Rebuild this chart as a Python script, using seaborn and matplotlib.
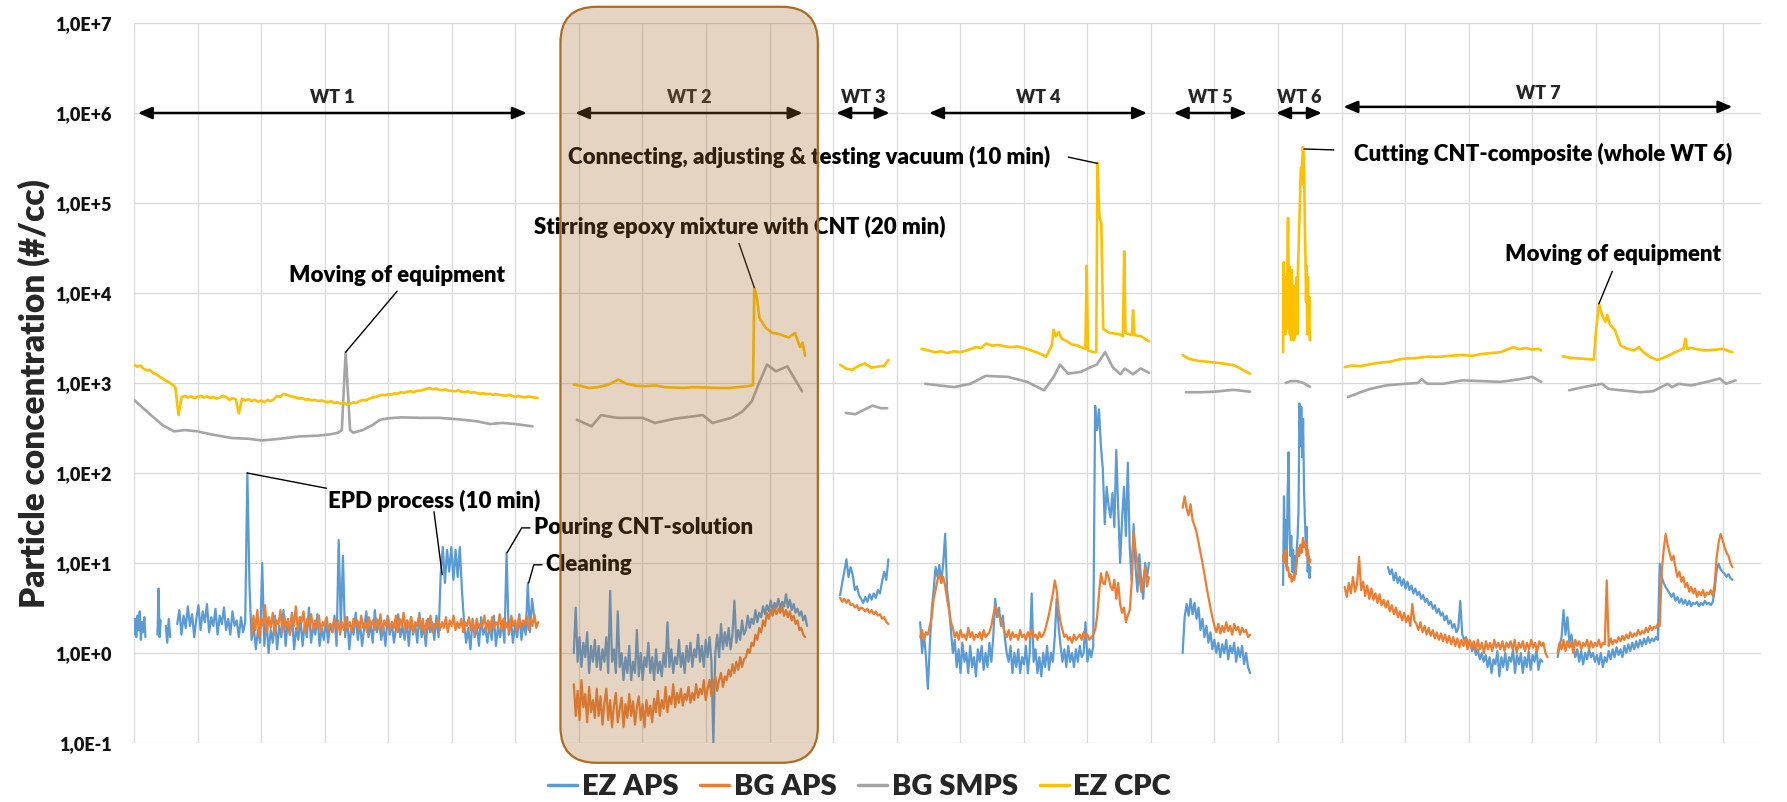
import numpy as np
import pandas as pd
import matplotlib
matplotlib.use("Agg")
import matplotlib.pyplot as plt
import seaborn as sns
from matplotlib.patches import FancyBboxPatch
from matplotlib.transforms import IdentityTransform
from matplotlib.lines import Line2D
from matplotlib.ticker import FixedLocator, FixedFormatter, MultipleLocator, NullFormatter, NullLocator

# ---------------------------------------------------------------- data
# time axis in arbitrary units (one vertical gridline per unit)
SERIES = ["EZ APS", "BG APS", "BG SMPS", "EZ CPC"]
COLORS = ["#5B9BD5", "#ED7D31", "#A5A5A5", "#FFC000"]
Y_TICKS = [1e-1, 1e0, 1e1, 1e2, 1e3, 1e4, 1e5, 1e6, 1e7]
Y_TICK_LABELS = ["1,0E-1", "1,0E+0", "1,0E+1", "1,0E+2", "1,0E+3",
                 "1,0E+4", "1,0E+5", "1,0E+6", "1,0E+7"]

# --- EZ APS (evenly sampled segments: start, end, values)
ez_aps_wt1a = (0.00, 0.18, [1.6, 2.4, 1.5, 2.6, 1.8, 2.9, 1.4, 2.2, 1.7, 2.5, 1.5])
ez_aps_wt1b = (0.37, 0.42, [1.6, 5.2, 1.5, 2.3])
ez_aps_wt1c = (0.50, 0.57, [2.0, 1.3, 2.4, 1.5])
ez_aps_wt1d = (0.68, 6.33, [
    2.1, 3.0, 1.6, 2.6, 1.9, 3.3, 2.0, 2.7, 1.5, 2.4,
    3.4, 1.8, 2.9, 2.2, 3.5, 1.7, 2.5, 2.0, 3.1, 1.6,
    2.6, 2.1, 3.2, 1.8, 2.4, 1.6, 2.9, 2.0, 2.3, 1.5,
    2.5, 1.7, 2.2, 100, 5.7, 1.4, 2.0, 1.1, 1.8, 1.3,
    10, 1.2, 2.4, 1.0, 1.8, 1.3, 2.6, 1.1, 2.0, 1.5,
    3.0, 1.2, 2.2, 1.6, 2.8, 1.1, 1.9, 1.4, 2.5, 1.2,
    2.1, 1.5, 3.2, 1.3, 2.0, 1.6, 2.7, 1.2, 1.9, 1.4,
    2.4, 1.3, 2.1, 1.7, 2.6, 1.2, 18, 2.0, 12, 1.5,
    2.5, 1.1, 2.0, 1.6, 2.8, 1.4, 2.2, 1.2, 1.9, 2.9,
    1.5, 2.1, 1.3, 3.0, 1.7, 2.3, 1.4, 2.0, 1.2, 2.6,
    1.6, 2.2, 1.3, 1.9, 2.7, 1.5, 2.0, 1.4, 2.3, 1.2,
    2.5, 1.6, 2.1, 1.3, 2.8, 1.5, 2.0, 1.2, 2.4, 1.7,
    2.2, 1.4, 2.6, 1.5, 7.5, 15, 6, 14, 8, 15,
    6.5, 14, 7, 15, 5, 2.2, 1.3, 1.9, 1.1, 2.4,
    1.5, 2.0, 1.2, 2.5, 1.6, 1.9, 1.3, 2.2, 1.4, 2.6,
    1.2, 2.0, 1.5, 2.3, 1.3, 13, 1.6, 2.4, 1.3, 2.1,
    1.5, 2.7, 1.4, 2.2, 1.6, 6, 1.7, 4, 2.5, 2.0])
ez_aps_wt2 = (6.92, 10.59, [
    1.0, 3.2, 0.8, 1.5, 0.7, 1.3, 0.9, 1.7, 0.6, 1.2,
    0.8, 1.4, 0.7, 1.2, 0.65, 1.1, 0.8, 1.5, 0.6, 4.9,
    0.8, 1.1, 0.6, 2.9, 0.7, 1.0, 0.5, 0.9, 0.6, 1.2,
    0.5, 0.8, 0.6, 1.8, 0.55, 1.0, 0.5, 0.9, 0.7, 1.3,
    0.6, 0.9, 0.5, 1.1, 0.6, 0.8, 0.55, 1.0, 0.7, 2.2,
    0.7, 1.1, 0.6, 0.9, 0.75, 1.4, 0.7, 1.0, 0.6, 1.2,
    0.8, 1.3, 0.7, 1.1, 0.9, 1.6, 0.8, 1.2, 0.7, 1.4,
    0.9, 1.5, 0.8, 0.1, 1.0, 1.6, 0.9, 2.1, 1.1, 1.7,
    1.2, 1.9, 1.1, 1.6, 3.8, 1.3, 1.8, 1.4, 2.3, 1.6,
    1.8, 2.6, 1.9, 2.4, 2.1, 3.0, 2.2, 2.8, 2.5, 3.3,
    2.7, 3.4, 2.9, 3.8, 3.0, 3.6, 3.2, 4.0, 3.1, 3.7,
    3.3, 4.5, 3.2, 3.9, 3.0, 3.5, 2.8, 3.1, 2.6, 2.9,
    2.3, 2.6, 2.0])
ez_aps_wt3 = (11.11, 11.87, [4.4, 6, 8, 11, 7, 9, 7.4, 5, 5.5, 4.4, 4, 3.6, 4.2, 3.7, 4.5, 3.9,
                             4.6, 4.1, 5.0, 4.6, 6.3, 8, 6.5, 11])
ez_aps_wt4 = (12.37, 15.97, [
    2.2, 1.0, 1.6, 0.9, 0.4, 1.2, 3.0, 5.0, 9.0, 7.0,
    9.5, 6.0, 10, 21, 5.0, 3.3, 1.8, 1.0, 1.4, 0.7,
    1.1, 0.6, 1.3, 0.8, 1.0, 0.6, 1.2, 0.7, 0.9, 0.55,
    1.1, 0.8, 1.2, 0.65, 1.0, 0.7, 1.3, 0.8, 1.5, 4.0,
    2.5, 3.2, 2.0, 2.6, 1.5, 1.0, 0.8, 1.2, 0.6, 1.0,
    0.7, 1.1, 0.6, 0.9, 0.75, 1.2, 0.6, 1.0, 4.6, 0.8,
    1.1, 0.6, 0.9, 0.55, 1.0, 0.7, 1.2, 0.65, 1.0, 0.8,
    1.5, 4.0, 2.0, 1.2, 0.8, 1.1, 0.7, 1.2, 0.8, 1.0,
    0.7, 1.1, 0.8, 1.2, 0.9, 1.0, 2.2, 0.8, 1.1, 0.9,
    1.2, 560, 300, 510, 200, 110, 27, 70, 43, 32,
    60, 25, 180, 40, 10, 30, 70, 20, 130, 15,
    6.4, 27, 9, 4.8, 12.5, 6, 4.0, 10, 7, 10])
ez_aps_wt5 = (16.50, 17.56, [1.0, 2.5, 3.5, 2.6, 4.0, 2.7, 3.6, 2.4, 3.2, 1.8, 2.4, 1.5, 2.0, 1.3, 1.7,
                             1.1, 1.4, 1.0, 1.3, 0.9, 1.25, 1.0, 1.4, 0.85, 1.2, 1.0, 1.3, 0.8, 1.15,
                             0.9, 1.2, 0.75, 1.0, 0.7, 0.6])
ez_aps_wt6 = (18.08, 18.51, [5.7, 55, 12, 30, 9, 60, 170, 25, 12, 20, 8, 14, 7, 12, 7.5, 14,
                             20, 40, 590, 200, 540, 150, 400, 66, 30, 16, 25, 8, 12, 6.8, 9])
ez_aps_wt7a = (19.73, 22.16, [
    9.0, 7.5, 8.5, 6.4, 7.8, 6.0, 7.0, 5.6, 6.6, 5.2,
    6.2, 5.0, 5.6, 4.6, 5.2, 4.4, 4.8, 4.0, 4.4, 3.7,
    4.0, 3.4, 3.7, 3.1, 3.4, 2.8, 3.1, 2.6, 2.8, 2.3,
    2.6, 2.1, 2.3, 1.9, 2.1, 1.7, 1.9, 3.8, 1.6, 1.4,
    1.5, 1.2, 1.35, 1.05, 1.2, 0.95, 1.1, 0.85, 1.0, 0.8,
    0.95, 0.7, 0.9, 0.6, 0.85, 0.75, 1.05, 0.55, 0.9, 0.7,
    1.0, 0.65, 0.9, 0.8, 1.1, 0.6, 0.95, 0.75, 1.0, 0.6,
    0.9, 0.7, 1.05, 0.65, 0.95, 0.8, 1.1, 0.65, 0.85, 0.8])
ez_aps_wt7b = (22.40, 25.15, [
    0.9, 1.2, 1.5, 3.0, 1.6, 2.5, 1.3, 1.6, 1.16, 0.9,
    1.1, 0.8, 1.05, 0.75, 1.0, 0.85, 1.1, 0.9, 1.0, 0.8,
    0.95, 0.75, 1.0, 0.7, 0.9, 0.8, 1.05, 0.85, 1.1, 0.9,
    1.16, 0.95, 1.1, 0.9, 1.2, 1.0, 1.25, 1.05, 1.3, 1.1,
    1.35, 1.15, 1.4, 1.2, 1.45, 1.25, 1.5, 1.3, 1.45, 1.35,
    1.5, 1.4, 9.8, 7.0, 6.0, 5.4, 5.0, 4.6, 4.2, 4.6,
    3.8, 4.2, 3.6, 4.0, 3.5, 3.9, 3.4, 3.8, 3.3, 3.6,
    3.5, 3.7, 3.3, 3.6, 3.4, 3.8, 3.5, 3.6, 3.4, 3.7,
    5.0, 8.3, 9.8, 8.5, 8.0, 7.6, 7.0, 7.5, 6.8, 6.5])

# --- BG APS
bg_aps_wt1 = (1.85, 6.36, [
    1.6, 2.6, 1.8, 3.0, 1.5, 2.4, 2.0, 3.4, 1.7, 2.5,
    1.9, 2.8, 1.6, 2.3, 2.1, 3.0, 1.7, 2.6, 1.9, 2.4,
    1.6, 2.7, 2.0, 3.3, 1.8, 2.5, 2.2, 2.9, 1.7, 2.4,
    2.0, 2.7, 1.8, 2.3, 1.9, 2.6, 1.7, 2.2, 2.0, 2.5,
    1.8, 2.1, 1.7, 2.4, 1.9, 2.3, 1.6, 2.2, 1.8, 2.5,
    1.9, 2.2, 1.7, 2.4, 2.0, 2.3, 1.8, 2.6, 1.9, 2.2,
    1.7, 2.5, 2.0, 2.3, 1.8, 2.4, 1.9, 2.7, 1.7, 2.3,
    2.0, 2.5, 1.8, 2.2, 1.9, 2.6, 1.7, 2.4, 2.0, 2.8,
    1.8, 2.3, 1.9, 2.5, 1.7, 2.2, 2.0, 2.6, 1.8, 2.4,
    1.6, 2.3, 1.9, 2.6, 1.7, 2.1, 2.0, 2.4, 1.8, 2.2,
    1.9, 2.5, 1.7, 2.3, 2.0, 2.6, 1.8, 2.2, 1.9, 2.4,
    1.7, 2.2, 2.0, 2.5, 1.8, 2.3, 1.6, 2.4, 1.9, 2.1,
    2.0, 2.6, 1.8, 2.3, 1.7, 2.5, 1.9, 2.2, 2.0, 2.7,
    1.8, 2.4, 1.9, 2.2, 1.7, 2.6, 2.0, 2.3, 1.8, 2.5,
    1.9, 2.3, 2.1, 2.6, 1.8, 2.4, 2.0, 2.7, 1.9, 2.2])
bg_aps_wt2 = (6.92, 10.56, [
    0.45, 0.2, 0.38, 0.18, 0.5, 0.25, 0.35, 0.17, 0.42, 0.22,
    0.3, 0.19, 0.4, 0.2, 0.33, 0.16, 0.28, 0.4, 0.18, 0.3,
    0.15, 0.26, 0.36, 0.17, 0.24, 0.32, 0.15, 0.27, 0.19, 0.35,
    0.2, 0.29, 0.16, 0.25, 0.33, 0.18, 0.27, 0.15, 0.3, 0.2,
    0.26, 0.17, 0.31, 0.22, 0.38, 0.2, 0.3, 0.24, 0.42, 0.22,
    0.33, 0.27, 0.45, 0.25, 0.36, 0.28, 0.4, 0.26, 0.35, 0.3,
    0.42, 0.28, 0.36, 0.3, 0.45, 0.32, 0.4, 0.35, 0.5, 0.3,
    0.4, 0.5, 0.33, 0.45, 0.55, 0.38, 0.5, 0.6, 0.42, 0.55,
    0.5, 0.65, 0.55, 0.75, 0.6, 0.8, 0.65, 0.9, 0.7, 0.85,
    0.9, 1.1, 1.0, 1.3, 1.2, 1.6, 1.4, 1.9, 1.7, 2.3,
    2.0, 2.8, 2.4, 3.0, 2.6, 3.2, 2.7, 3.1, 2.8, 3.3,
    2.6, 3.0, 2.5, 2.9, 2.3, 2.6, 2.1, 2.3, 1.8, 1.9,
    1.6, 1.5])
bg_aps_wt3 = (11.11, 11.87, [4.1, 3.7, 4.0, 3.6, 3.9, 3.4, 3.5, 3.2, 3.4, 3.0, 3.2, 3.1, 2.9, 3.1, 2.8,
                             3.0, 2.7, 2.9, 2.6, 2.7, 2.4, 2.5, 2.2, 2.1])
bg_aps_wt4 = (12.37, 15.97, [
    1.5, 1.8, 1.4, 1.7, 1.6, 2.0, 2.5, 4.0, 5.0, 6.5,
    7.5, 6.0, 7.0, 5.5, 4.0, 3.0, 2.2, 1.9, 1.5, 1.7,
    1.4, 1.8, 1.5, 1.6, 1.4, 1.9, 1.5, 1.7, 1.4, 1.6,
    1.5, 1.7, 1.4, 1.8, 1.5, 1.6, 1.7, 2.0, 2.6, 3.3,
    3.0, 2.6, 2.3, 2.0, 1.7, 1.5, 1.8, 1.4, 1.7, 1.5,
    1.6, 1.4, 1.8, 1.5, 1.6, 1.4, 1.7, 1.5, 1.8, 1.5,
    1.6, 1.4, 1.7, 1.5, 1.6, 1.8, 2.2, 2.7, 3.5, 4.5,
    6.4, 5.0, 3.0, 2.2, 1.8, 1.5, 1.6, 1.4, 1.5, 1.3,
    1.6, 1.4, 1.5, 1.6, 1.4, 1.7, 1.5, 1.6, 1.4, 1.5,
    1.6, 1.8, 2.5, 4.5, 7.7, 6.0, 5.8, 8.0, 7.0, 5.5,
    5.0, 6.5, 4.0, 6.0, 3.5, 2.8, 3.2, 2.2, 2.6, 3.0,
    6.0, 22, 14, 10, 7.0, 4.8, 6.5, 9, 5.5, 7])
bg_aps_wt5 = (16.50, 17.56, [41, 55, 40, 34, 45, 30, 26, 22, 17, 13, 10, 7.5, 5.5, 4.2, 3.2, 2.5, 2.0,
                             1.7, 2.1, 1.65, 2.0, 1.7, 2.2, 1.75, 2.0, 1.6, 2.1, 1.8, 1.95, 1.6, 1.9,
                             1.7, 1.8, 1.5, 1.6])
bg_aps_wt6 = (18.08, 18.51, [12, 10, 14, 8.3, 9, 7, 7.5, 6.2, 7, 6.5, 8, 10, 14.6, 12, 16, 13,
                             19, 15, 17, 12, 14, 10, 11])
bg_aps_wt7a = (19.05, 22.24, [
    5.4, 4.2, 6.0, 4.6, 7.0, 4.8, 5.8, 11.7, 5.0, 6.2,
    4.3, 5.6, 4.0, 5.2, 3.9, 4.6, 3.6, 4.5, 3.4, 3.9,
    3.2, 3.8, 2.9, 3.4, 2.7, 3.2, 2.5, 2.9, 2.3, 2.8,
    2.2, 2.6, 2.0, 3.5, 2.3, 2.1, 1.8, 2.2, 1.7, 2.0,
    1.6, 1.9, 1.55, 1.8, 1.45, 1.7, 1.4, 1.65, 1.35, 1.6,
    1.3, 1.55, 1.25, 1.5, 1.2, 1.45, 1.15, 1.4, 1.2, 1.45,
    1.1, 1.4, 1.15, 1.35, 1.05, 1.4, 1.1, 1.3, 1.0, 1.35,
    1.1, 1.3, 1.05, 1.4, 1.15, 1.3, 1.1, 1.35, 1.05, 1.3,
    1.15, 1.35, 1.1, 1.4, 1.0, 1.3, 1.15, 1.35, 1.05, 1.3,
    1.1, 1.4, 1.15, 1.3, 1.05, 1.35, 1.2, 1.3, 1.0, 0.9])
bg_aps_wt7b = (22.40, 25.15, [
    1.0, 1.3, 1.1, 1.4, 1.05, 1.35, 1.15, 1.3, 1.0, 1.4,
    1.2, 1.35, 1.1, 1.3, 1.2, 1.4, 1.1, 1.35, 1.15, 1.3,
    1.2, 1.4, 1.15, 1.3, 1.25, 6.4, 1.2, 1.45, 1.25, 1.4,
    1.3, 1.5, 1.35, 1.55, 1.4, 1.6, 1.45, 1.7, 1.5, 1.65,
    1.55, 1.8, 1.6, 1.75, 1.65, 1.9, 1.7, 2.0, 1.8, 1.95,
    1.9, 2.1, 2.0, 8.0, 14, 21, 16, 13, 10.7, 12,
    9, 7, 8, 6.2, 7, 5.4, 6, 4.8, 5.4, 4.6,
    5.2, 4.2, 4.8, 4.4, 5.0, 4.2, 4.7, 4.5, 5.0, 4.3,
    6.0, 11.7, 17, 21, 18, 15, 13, 12, 10, 9])

# --- BG SMPS (time, value) pairs
bg_smps_wt1 = [(0.0, 650), (0.15, 520), (0.3, 420), (0.45, 340), (0.63, 290), (0.8, 300), (1.0, 290),
               (1.2, 270), (1.53, 245), (1.8, 240), (2.01, 230), (2.3, 240), (2.6, 255), (2.9, 260),
               (3.1, 270), (3.21, 280), (3.27, 300), (3.33, 2200), (3.4, 300), (3.45, 280), (3.6, 300),
               (3.75, 340), (3.87, 390), (4.0, 405), (4.2, 415), (4.5, 410), (4.8, 410), (5.1, 395),
               (5.4, 375), (5.6, 350), (5.8, 360), (6.0, 350), (6.27, 330)]
bg_smps_wt2 = [(6.97, 390), (7.2, 330), (7.35, 440), (7.6, 410), (8.0, 410), (8.2, 360), (8.5, 400),
               (8.95, 440), (9.1, 360), (9.4, 410), (9.57, 480), (9.72, 625), (9.83, 980), (9.96, 1600),
               (10.1, 1350), (10.28, 1530), (10.51, 810)]
bg_smps_wt3 = [(11.2, 465), (11.35, 450), (11.5, 510), (11.62, 560), (11.75, 525), (11.85, 525)]
bg_smps_wt4 = [(12.45, 980), (12.9, 900), (13.16, 980), (13.4, 1200), (13.75, 1170), (14.05, 1030),
               (14.32, 830), (14.47, 1170), (14.57, 1600), (14.7, 1270), (14.9, 1330), (15.05, 1500),
               (15.15, 1600), (15.28, 2200), (15.4, 1500), (15.52, 1250), (15.59, 1450), (15.72, 1250),
               (15.84, 1450), (15.97, 1300)]
bg_smps_wt5 = [(16.55, 790), (16.8, 790), (17.0, 800), (17.3, 840), (17.56, 800)]
bg_smps_wt6 = [(18.12, 1000), (18.2, 1050), (18.3, 1050), (18.4, 1000), (18.5, 910)]
bg_smps_wt7a = [(19.1, 700), (19.2, 740), (19.3, 790), (19.45, 860), (19.7, 940), (20.0, 980), (20.2, 1000),
                (20.26, 1100), (20.35, 980), (20.6, 980), (20.9, 1070), (21.2, 1050), (21.5, 1030),
                (21.8, 1100), (22.0, 1170), (22.14, 1030)]
bg_smps_wt7b = [(22.58, 830), (22.8, 900), (22.95, 940), (23.1, 980), (23.2, 860), (23.4, 830), (23.7, 790),
                (23.9, 810), (24.13, 980), (24.2, 900), (24.3, 980), (24.5, 940), (24.75, 1030),
                (24.95, 1120), (25.05, 980), (25.2, 1070)]

# --- EZ CPC
ez_cpc_wt1 = (0.00, 6.35, [   # evenly sampled
    1600, 1520, 1560, 1440, 1380, 1400, 1290, 1250, 1180, 1120,
    1060, 1020, 960, 900, 440, 700, 720, 690, 710, 680,
    700, 720, 690, 710, 680, 700, 670, 690, 720, 700,
    650, 680, 660, 460, 670, 640, 660, 630, 650, 620,
    640, 610, 650, 630, 660, 720, 700, 760, 740, 720,
    700, 690, 670, 680, 650, 660, 640, 650, 630, 640,
    625, 610, 630, 600, 610, 590, 600, 575, 590, 610,
    600, 630, 650, 640, 670, 690, 700, 720, 740, 730,
    750, 740, 770, 760, 790, 780, 800, 810, 790, 820,
    820, 840, 860, 880, 850, 870, 840, 830, 850, 820,
    820, 810, 830, 800, 790, 810, 780, 790, 770, 760,
    770, 750, 760, 740, 750, 740, 730, 720, 740, 720,
    700, 720, 700, 690, 710, 700, 690, 680])
ez_cpc_wt2 = [(6.92, 960), (7.0, 940), (7.15, 880), (7.3, 900), (7.45, 950), (7.62, 1090), (7.75, 980),
              (7.9, 930), (8.05, 920), (8.2, 940), (8.35, 900), (8.5, 890), (8.64, 880), (8.8, 900),
              (9.0, 890), (9.2, 880), (9.37, 880), (9.5, 900), (9.65, 920), (9.74, 950), (9.76, 11500),
              (9.8, 9000), (9.84, 5300), (9.94, 4100), (10.05, 3600), (10.15, 3500), (10.3, 3200),
              (10.4, 3600), (10.48, 2500), (10.52, 2800), (10.56, 2000)]
ez_cpc_wt3 = [(11.11, 1600), (11.2, 1450), (11.3, 1400), (11.4, 1550), (11.5, 1650), (11.6, 1480),
              (11.7, 1520), (11.8, 1550), (11.87, 1800)]
ez_cpc_wt4 = [(12.39, 2400), (12.5, 2300), (12.6, 2200), (12.7, 2250), (12.8, 2150), (12.9, 2250),
              (13.0, 2200), (13.1, 2300), (13.25, 2500), (13.33, 2450), (13.41, 2750), (13.5, 2600),
              (13.6, 2650), (13.7, 2550), (13.8, 2500), (13.9, 2550), (14.04, 2400), (14.12, 2300),
              (14.2, 2200), (14.3, 2050), (14.35, 1950), (14.44, 2600), (14.47, 3900), (14.5, 3300),
              (14.55, 3700), (14.6, 3100), (14.68, 2900), (14.75, 2700), (14.85, 2600), (14.9, 2500),
              (14.97, 2400), (14.99, 20000), (15.01, 2300), (15.1, 2200), (15.14, 2200),
              (15.16, 280000), (15.19, 70000), (15.22, 60000), (15.25, 4000), (15.35, 3600), (15.5, 3500),
              (15.56, 3300), (15.58, 29000), (15.6, 3600), (15.7, 3400), (15.72, 6400), (15.74, 3400),
              (15.85, 3300), (15.97, 2900)]
ez_cpc_wt5 = [(16.5, 2040), (16.6, 1850), (16.75, 1760), (16.9, 1720), (17.03, 1680), (17.2, 1620),
              (17.3, 1580), (17.4, 1460), (17.5, 1330), (17.56, 1270)]
ez_cpc_wt6 = (18.08, 18.51, [   # evenly sampled
    2200, 22000, 5000, 15000, 3500, 12000, 4000, 20000, 68000, 8000,
    20000, 3500, 15000, 3000, 18000, 4000, 10000, 3000, 12000, 3200,
    7700, 4000, 15000, 3500, 20000, 30000, 60000, 90000, 180000, 250000,
    160000, 300000, 420000, 350000, 200000, 60000, 26000, 8000, 20000, 3500,
    15000, 4000, 9000, 3000, 3000])
ez_cpc_wt7a = [(19.05, 1500), (19.15, 1560), (19.3, 1540), (19.45, 1620), (19.6, 1680), (19.75, 1720),
               (19.9, 1820), (20.0, 1870), (20.2, 1900), (20.35, 1960), (20.5, 1950), (20.7, 2000),
               (20.9, 2050), (21.05, 2000), (21.2, 2100), (21.35, 2150), (21.5, 2200), (21.6, 2350),
               (21.7, 2500), (21.8, 2380), (21.9, 2450), (22.0, 2350), (22.1, 2400), (22.14, 2300)]
ez_cpc_wt7b = [(22.48, 1980), (22.6, 1900), (22.75, 1870), (22.9, 1840), (22.97, 1820), (23.0, 3550),
               (23.05, 7600), (23.1, 5700), (23.15, 4800), (23.18, 5700), (23.22, 4500), (23.3, 3900),
               (23.39, 2600), (23.5, 2400), (23.6, 2300), (23.68, 2500), (23.75, 2200), (23.85, 1950),
               (23.97, 1800), (24.1, 1950), (24.25, 2200), (24.38, 2400), (24.41, 3100), (24.44, 2400),
               (24.5, 2450), (24.7, 2300), (24.9, 2350), (25.0, 2400), (25.1, 2250), (25.15, 2200)]

# --- work-task spans
WT_NAMES = ["WT 1", "WT 2", "WT 3", "WT 4", "WT 5", "WT 6", "WT 7"]
WT_START = [0.06, 6.94, 11.05, 12.51, 16.36, 17.97, 19.03]
WT_END = [6.18, 10.52, 11.89, 15.94, 17.51, 18.69, 25.15]
WT_ARROW_Y = [1e6, 1e6, 1e6, 1e6, 1e6, 1e6, 1.17e6]
WT_LABEL_Y = [1.48e6, 1.48e6, 1.48e6, 1.48e6, 1.48e6, 1.48e6, 1.66e6]
HIGHLIGHT = (6.71, 10.76)   # shaded WT 2 period

# ---------------------------------------------------------------- frames
def seg_xy(s):
    if isinstance(s, tuple):            # (start, end, values) evenly sampled
        t0, t1, vals = s
        return np.linspace(t0, t1, len(vals)), np.asarray(vals, float)
    a = np.asarray(s, float)            # list of (t, v) pairs
    return a[:, 0], a[:, 1]

def build(name, segs):
    parts = []
    for k, s in enumerate(segs):
        t, v = seg_xy(s)
        parts.append(pd.DataFrame({"t": t, "v": v, "seg": k, "series": name}))
    return pd.concat(parts, ignore_index=True)

df_ez_aps = build("EZ APS", [ez_aps_wt1a, ez_aps_wt1b, ez_aps_wt1c, ez_aps_wt1d, ez_aps_wt2, ez_aps_wt3,
                             ez_aps_wt4, ez_aps_wt5, ez_aps_wt6, ez_aps_wt7a, ez_aps_wt7b])
df_bg_aps = build("BG APS", [bg_aps_wt1, bg_aps_wt2, bg_aps_wt3, bg_aps_wt4, bg_aps_wt5, bg_aps_wt6,
                             bg_aps_wt7a, bg_aps_wt7b])
df_smps = build("BG SMPS", [bg_smps_wt1, bg_smps_wt2, bg_smps_wt3, bg_smps_wt4, bg_smps_wt5, bg_smps_wt6,
                            bg_smps_wt7a, bg_smps_wt7b])
df_cpc = build("EZ CPC", [ez_cpc_wt1, ez_cpc_wt2, ez_cpc_wt3, ez_cpc_wt4, ez_cpc_wt5, ez_cpc_wt6,
                          ez_cpc_wt7a, ez_cpc_wt7b])

# ---------------------------------------------------------------- plot
sns.set_theme(style="white")
plt.rcParams["font.family"] = ["Lato", "DejaVu Sans"]
WEIGHT = "heavy"

W, H = 1787, 802
fig = plt.figure(figsize=(W / 100, H / 100), dpi=100)
ax = fig.add_axes([134 / W, 1 - 743 / H, (1761 - 134) / W, (743 - 23) / H])
ax.set_yscale("log")

widths = [1.6, 1.6, 1.9, 1.9]
for d, c, lw in zip([df_ez_aps, df_bg_aps, df_smps, df_cpc], COLORS, widths):
    sns.lineplot(data=d, x="t", y="v", units="seg", estimator=None, sort=False,
                 color=c, lw=lw, ax=ax, legend=False)

ax.set_xlim(0, 25.6)
ax.set_ylim(1e-1, 1e7)
ax.yaxis.set_major_locator(FixedLocator(Y_TICKS))
ax.yaxis.set_major_formatter(FixedFormatter(Y_TICK_LABELS))
ax.yaxis.set_minor_locator(NullLocator())
ax.xaxis.set_major_locator(MultipleLocator(1))
ax.xaxis.set_major_formatter(NullFormatter())
ax.grid(True, which="major", color="#D9D9D9", lw=0.9)
ax.set_axisbelow(True)
for s in ax.spines.values():
    s.set_visible(False)
ax.tick_params(axis="both", length=0)
ax.tick_params(axis="y", pad=16, labelsize=13, labelcolor="#111111")
for lab in ax.get_yticklabels():
    lab.set_fontweight(WEIGHT)
ax.set_xlabel("")
ax.set_ylabel("Particle concentration (#/cc)", fontsize=24, fontweight=WEIGHT, va="center")
ax.yaxis.set_label_coords(-0.0615, 0.486)

# work-task arrows
for name, a, b, ya, yl in zip(WT_NAMES, WT_START, WT_END, WT_ARROW_Y, WT_LABEL_Y):
    ax.annotate("", xy=(b, ya), xytext=(a, ya),
                arrowprops=dict(arrowstyle="<|-|>,head_length=0.7,head_width=0.3", color="black",
                                lw=1.8, shrinkA=0, shrinkB=0, mutation_scale=12))
    ax.text((a + b) / 2, yl, name, ha="center", va="center", fontsize=13, fontweight=WEIGHT)

# annotations with leader lines
TXT = dict(fontsize=16, fontweight=WEIGHT, va="center", color="black")
LN = dict(color="black", lw=1.0)
ax.text(4.14, 10 ** 4.2, "Moving of equipment", ha="center", **TXT)
ax.plot([4.14, 3.33], [10 ** 4.02, 2200], **LN)
ax.text(9.53, 10 ** 4.73, "Stirring epoxy mixture with CNT (20 min)", ha="center", **TXT)
ax.plot([9.52, 9.76], [10 ** 4.55, 11500], **LN)
ax.text(10.62, 10 ** 5.51, "Connecting, adjusting & testing vacuum (10 min)", ha="center", **TXT)
ax.plot([14.7, 15.16], [10 ** 5.51, 10 ** 5.44], **LN)
ax.text(19.2, 10 ** 5.55, "Cutting CNT-composite (whole WT 6)", ha="left", **TXT)
ax.plot([18.41, 18.88], [10 ** 5.6, 10 ** 5.59], **LN)
ax.text(23.27, 10 ** 4.43, "Moving of equipment", ha="center", **TXT)
ax.plot([23.26, 23.05], [10 ** 4.24, 7600], **LN)
ax.text(3.05, 10 ** 1.69, "EPD process (10 min)", ha="left", **TXT)
ax.plot([1.78, 3.03], [100, 10 ** 1.83], **LN)
ax.plot([4.72, 4.85], [10 ** 1.57, 10 ** 0.87], **LN)
ax.text(6.3, 10 ** 1.39, "Pouring CNT-solution", ha="left", **TXT)
ax.plot([5.87, 6.1, 6.23], [13, 10 ** 1.39, 10 ** 1.39], **LN)
ax.text(6.47, 10 ** 0.98, "Cleaning", ha="left", **TXT)
ax.plot([6.21, 6.29, 6.42], [6, 10 ** 0.98, 10 ** 0.98], **LN)

# shaded rounded highlight of WT 2 (drawn over the data, semi-transparent)
x0, y0 = ax.transData.transform((HIGHLIGHT[0], 10 ** -1.22))
x1, y1 = ax.transData.transform((HIGHLIGHT[1], 10 ** 7.18))
box = FancyBboxPatch((x0, y0), x1 - x0, y1 - y0, boxstyle="round,pad=0,rounding_size=36",
                     transform=IdentityTransform(), facecolor=(0.65, 0.43, 0.19, 0.29),
                     edgecolor="#AD6B22", lw=1.6, zorder=10)
fig.add_artist(box)

# legend
handles = [Line2D([0], [0], color=c, lw=2.5) for c in COLORS]
fig.legend(handles, SERIES, loc="center", bbox_to_anchor=(0.481, 0.019), ncol=4, frameon=False,
           prop=dict(weight=WEIGHT, size=21), handlelength=1.0, handletextpad=0.15, columnspacing=0.75,
           borderpad=0)

fig.savefig("out.png", dpi=100)
